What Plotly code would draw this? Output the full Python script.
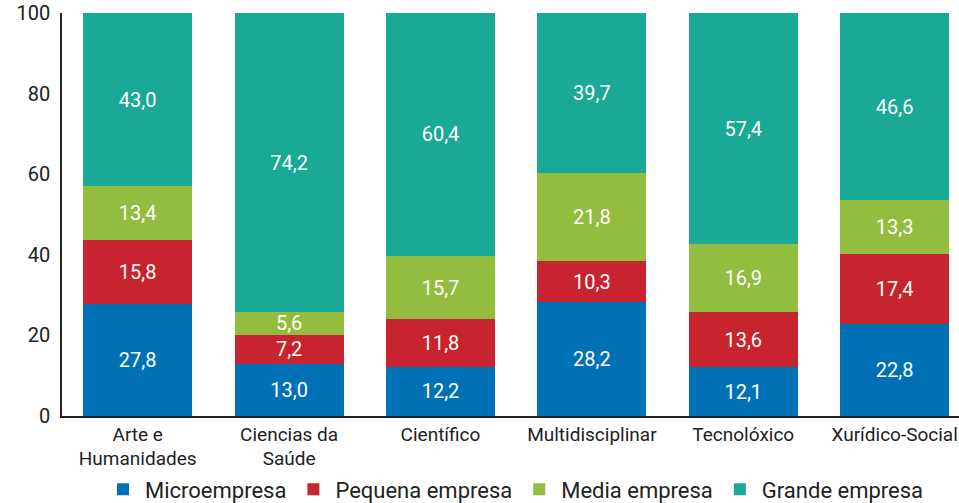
import plotly.graph_objects as go

categories = ["Arte e<br>Humanidades", "Ciencias da<br>Saúde", "Científico", "Multidisciplinar", "Tecnolóxico", "Xurídico-Social"]
micro = [27.8, 13.0, 12.2, 28.2, 12.1, 22.8]
pequena = [15.8, 7.2, 11.8, 10.3, 13.6, 17.4]
media = [13.4, 5.6, 15.7, 21.8, 16.9, 13.3]
grande = [43.0, 74.2, 60.4, 39.7, 57.4, 46.6]
series_names = ["Microempresa", "Pequena empresa", "Media empresa", "Grande empresa"]
colors = ["#0071b6", "#c8242f", "#93bd3e", "#1aa997"]

FONT = "Roboto"
fig = go.Figure()
for name, vals, col in zip(series_names, [micro, pequena, media, grande], colors):
    fig.add_trace(go.Bar(
        x=categories, y=vals, name=name, marker=dict(color=col, line=dict(width=0)),
        texttemplate="%{y:.1f}", textposition="inside", insidetextanchor="middle",
        constraintext="none",
        textfont=dict(color="white", size=20, family=FONT),
    ))

fig.update_layout(
    barmode="stack", bargap=0.28, separators=",.",
    width=959, height=503,
    margin=dict(l=62, r=0, t=13, b=87, autoexpand=False),
    plot_bgcolor="white", paper_bgcolor="white",
    font=dict(family=FONT, size=19, color="#222"),
    showlegend=True,
    legend=dict(orientation="h", traceorder="normal", x=0.505, xanchor="center",
                y=-0.13, yanchor="top",
                font=dict(size=22, color="#222"), itemwidth=34),
    xaxis=dict(range=[-0.5, 5.425], showline=True, linecolor="#222", linewidth=1.5,
               ticks="", tickfont=dict(size=19), automargin=False),
    yaxis=dict(range=[0, 100], tickvals=[0, 20, 40, 60, 80, 100], showgrid=False,
               showline=True, linecolor="#222", linewidth=1.5, ticks="", zeroline=False,
               tickfont=dict(size=20), automargin=False, ticklabelstandoff=6,
               ticklabeloverflow="allow"),
)
fig.write_html("out.html", config={"displayModeBar": False},
               post_script="document.body.style.margin='0';")
